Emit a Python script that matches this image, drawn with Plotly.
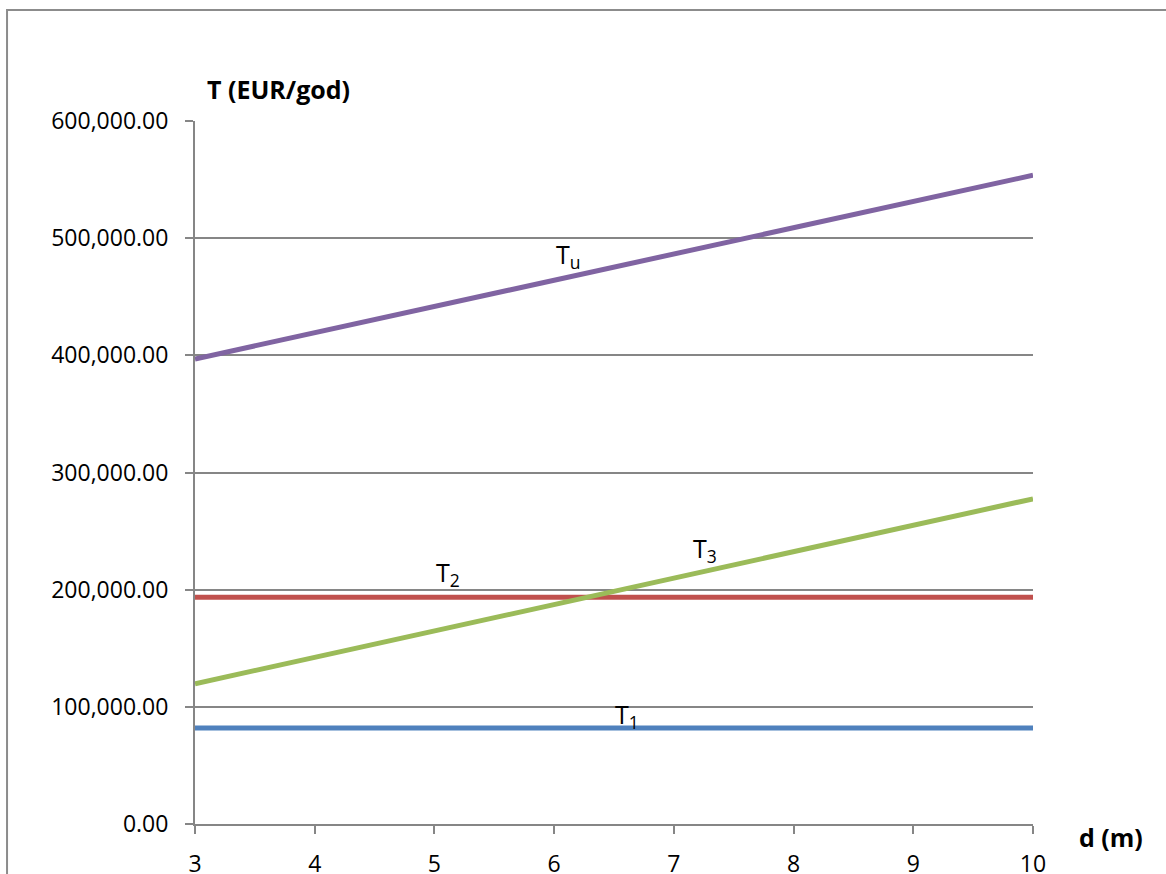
import plotly.graph_objects as go

# depth d (m)
d = [3, 4, 5, 6, 7, 8, 9, 10]

# annual costs T (EUR/god)
T1 = [81900, 81900, 81900, 81900, 81900, 81900, 81900, 81900]
T2 = [193500, 193500, 193500, 193500, 193500, 193500, 193500, 193500]
T3 = [119700, 142200, 164800, 187300, 209900, 232400, 255000, 277500]
Tu = [396900, 419300, 441700, 464100, 486500, 508900, 531300, 553700]

series = [
    ("T1", T1, "#4F81BD"),
    ("T2", T2, "#C0504D"),
    ("T3", T3, "#9BBB59"),
    ("Tu", Tu, "#8064A2"),
]

# curve labels: (text, d, T)
labels = [
    ("T<sub>1</sub>", 6.61, 92500),
    ("T<sub>2</sub>", 5.11, 213500),
    ("T<sub>3</sub>", 7.26, 234500),
    ("T<sub>u</sub>", 6.12, 485000),
]

y_ticks = [0, 100000, 200000, 300000, 400000, 500000, 600000]

FONT = "Open Sans"
GRID = "#868686"

fig = go.Figure()
for name, vals, color in series:
    fig.add_trace(go.Scatter(
        x=d, y=vals, mode="lines", name=name,
        line=dict(color=color, width=5),
        hoverinfo="skip",
    ))

for text, xv, yv in labels:
    fig.add_annotation(
        x=xv, y=yv, text=text, showarrow=False,
        font=dict(family=FONT, size=25, color="#000000"),
    )

# axis titles
fig.add_annotation(
    xref="paper", yref="paper", x=0.012, y=1.046, xanchor="left", yanchor="middle",
    text="<b>T (EUR/god)</b>", showarrow=False,
    font=dict(family=FONT, size=25, color="#000000"),
)
fig.add_annotation(
    xref="paper", yref="paper", x=1.052, y=-0.019, xanchor="left", yanchor="middle",
    text="<b>d (m)</b>", showarrow=False,
    font=dict(family=FONT, size=25, color="#000000"),
)

# chart frame
fig.add_shape(
    type="rect", xref="paper", yref="paper",
    x0=-0.2243, x1=1.4, y0=-0.3, y1=1.1579,
    line=dict(color="#8C8C8C", width=2), fillcolor="rgba(0,0,0,0)", layer="below",
)

fig.update_layout(
    width=1166, height=874,
    margin=dict(l=195, r=133, t=121, b=50),
    paper_bgcolor="#FFFFFF", plot_bgcolor="#FFFFFF",
    showlegend=False,
    font=dict(family=FONT, size=23, color="#000000"),
)
fig.update_xaxes(
    range=[3, 10], tickmode="array", tickvals=d, ticktext=[str(v) for v in d],
    showgrid=False, zeroline=False, automargin=False,
    showline=True, linecolor=GRID, linewidth=2,
    ticks="outside", ticklen=8, tickwidth=2, tickcolor=GRID,
    ticklabelstandoff=10,
    tickfont=dict(family=FONT, size=23, color="#000000"),
)
fig.update_yaxes(
    range=[0, 600000], tickmode="array", tickvals=y_ticks,
    ticktext=[f"{v:,.2f}" for v in y_ticks],
    showgrid=True, gridcolor=GRID, gridwidth=1.5, zeroline=False, automargin=False,
    showline=True, linecolor=GRID, linewidth=2,
    ticks="outside", ticklen=8, tickwidth=2, tickcolor=GRID,
    ticklabelstandoff=12,
    tickfont=dict(family=FONT, size=23, color="#000000"),
)

fig.write_html("out.html")
